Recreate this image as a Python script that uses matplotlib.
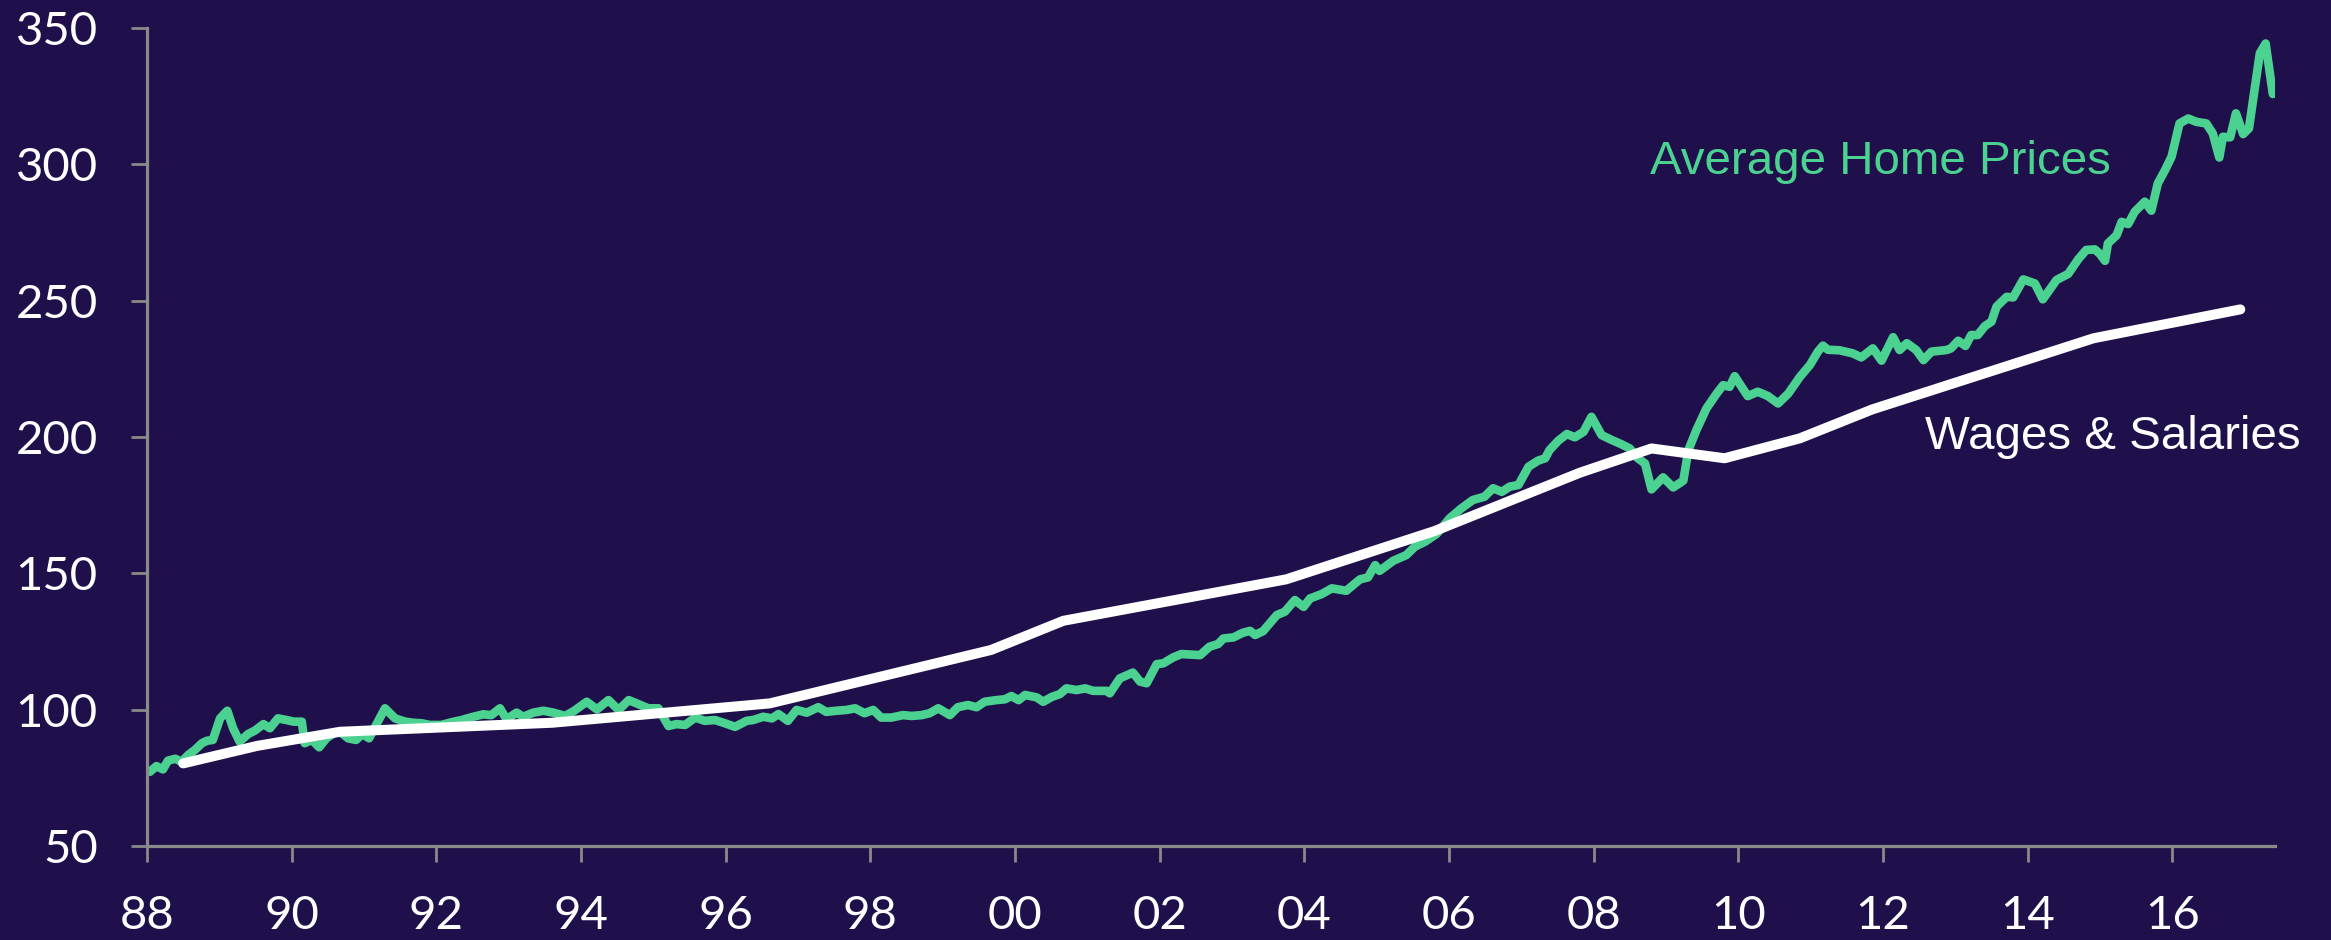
import matplotlib
matplotlib.use("Agg")
import matplotlib.pyplot as plt

# ---------------- data ----------------
home_years = [
    1988.04, 1988.13, 1988.22, 1988.29, 1988.39, 1988.48, 1988.57, 1988.66, 1988.76, 1988.83,
    1988.91, 1989.01, 1989.11, 1989.19, 1989.28, 1989.40, 1989.49, 1989.61, 1989.70, 1989.81,
    1989.93, 1990.03, 1990.14, 1990.18, 1990.28, 1990.38, 1990.48, 1990.58, 1990.67, 1990.78,
    1990.89, 1990.98, 1991.07, 1991.18, 1991.29, 1991.43, 1991.57, 1991.68, 1991.80, 1991.91,
    1992.07, 1992.21, 1992.35, 1992.51, 1992.65, 1992.76, 1992.88, 1992.97, 1993.11, 1993.20,
    1993.34, 1993.48, 1993.62, 1993.78, 1993.90, 1994.08, 1994.22, 1994.38, 1994.52, 1994.66,
    1994.77, 1994.93, 1995.07, 1995.21, 1995.32, 1995.44, 1995.58, 1995.71, 1995.85, 1995.97,
    1996.13, 1996.29, 1996.38, 1996.52, 1996.64, 1996.73, 1996.86, 1996.98, 1997.12, 1997.28,
    1997.39, 1997.53, 1997.67, 1997.79, 1997.92, 1998.04, 1998.15, 1998.29, 1998.45, 1998.57,
    1998.71, 1998.82, 1998.94, 1999.10, 1999.21, 1999.35, 1999.47, 1999.58, 1999.74, 1999.86,
    1999.95, 2000.05, 2000.14, 2000.30, 2000.39, 2000.51, 2000.62, 2000.71, 2000.85, 2000.97,
    2001.08, 2001.27, 2001.31, 2001.45, 2001.63, 2001.73, 2001.82, 2001.96, 2002.05, 2002.19,
    2002.30, 2002.56, 2002.69, 2002.81, 2002.88, 2003.02, 2003.15, 2003.25, 2003.32, 2003.43,
    2003.62, 2003.73, 2003.87, 2003.99, 2004.08, 2004.24, 2004.38, 2004.58, 2004.77, 2004.88,
    2004.98, 2005.04, 2005.23, 2005.41, 2005.53, 2005.67, 2005.83, 2006.01, 2006.17, 2006.33,
    2006.49, 2006.61, 2006.73, 2006.84, 2006.96, 2007.10, 2007.23, 2007.33, 2007.39, 2007.51,
    2007.63, 2007.74, 2007.86, 2007.97, 2008.11, 2008.25, 2008.38, 2008.50, 2008.61, 2008.71,
    2008.80, 2008.96, 2009.10, 2009.24, 2009.31, 2009.42, 2009.56, 2009.70, 2009.79, 2009.88,
    2009.95, 2010.13, 2010.27, 2010.41, 2010.55, 2010.69, 2010.85, 2010.99, 2011.10, 2011.17,
    2011.24, 2011.40, 2011.58, 2011.70, 2011.86, 2011.98, 2012.14, 2012.23, 2012.33, 2012.46,
    2012.56, 2012.67, 2012.88, 2012.94, 2013.04, 2013.14, 2013.22, 2013.31, 2013.41, 2013.50,
    2013.57, 2013.71, 2013.80, 2013.94, 2014.10, 2014.21, 2014.40, 2014.56, 2014.70, 2014.81,
    2014.93, 2015.00, 2015.07, 2015.11, 2015.23, 2015.30, 2015.39, 2015.48, 2015.62, 2015.71,
    2015.80, 2015.90, 2015.99, 2016.10, 2016.22, 2016.33, 2016.47, 2016.56, 2016.65, 2016.70,
    2016.80, 2016.88, 2016.98, 2017.06, 2017.21, 2017.29, 2017.39,
]
home_values = [
    77.2, 79.3, 78.1, 81.3, 82.0, 80.9, 83.4, 85.2, 87.7, 88.6,
    88.9, 96.8, 99.6, 93.2, 88.3, 91.1, 92.3, 94.7, 93.2, 96.8,
    96.2, 95.6, 95.6, 87.7, 88.9, 86.2, 89.5, 91.3, 91.9, 89.5,
    88.9, 91.1, 89.5, 95.0, 100.5, 96.8, 95.6, 95.2, 95.0, 94.4,
    94.4, 95.4, 96.2, 97.4, 98.3, 98.0, 100.5, 96.5, 98.9, 97.4,
    98.9, 99.6, 98.9, 97.7, 99.5, 102.9, 100.1, 103.5, 99.9, 103.5,
    102.3, 100.5, 100.5, 94.0, 94.7, 94.4, 97.1, 95.9, 96.2, 95.2,
    93.7, 95.9, 96.2, 97.4, 96.8, 98.4, 95.9, 99.9, 98.9, 100.9,
    99.2, 99.6, 99.9, 100.5, 98.7, 99.9, 97.1, 97.1, 98.0, 97.7,
    98.0, 98.7, 100.5, 98.0, 100.9, 101.7, 100.9, 102.9, 103.5, 103.8,
    105.0, 103.5, 105.4, 104.5, 102.9, 104.7, 105.7, 107.8, 107.2, 107.8,
    106.9, 106.9, 106.0, 111.5, 113.6, 110.3, 109.7, 116.7, 117.0, 119.2,
    120.4, 120.0, 123.1, 124.1, 126.1, 126.5, 128.2, 128.9, 127.4, 128.8,
    134.7, 135.9, 140.2, 137.7, 140.8, 142.4, 144.5, 143.6, 147.8, 148.5,
    153.0, 150.9, 154.6, 156.7, 159.8, 161.6, 164.5, 170.2, 173.8, 176.9,
    178.1, 181.2, 179.9, 181.8, 182.4, 189.1, 191.3, 192.2, 195.2, 198.6,
    201.1, 199.9, 201.9, 207.4, 200.7, 198.9, 197.4, 195.8, 192.2, 190.3,
    180.8, 185.2, 181.5, 184.0, 195.2, 202.5, 210.5, 215.9, 219.0, 218.4,
    222.3, 215.0, 216.6, 215.0, 212.3, 215.9, 222.0, 226.4, 231.3, 233.5,
    232.0, 231.8, 230.7, 229.2, 232.5, 228.0, 236.6, 231.9, 234.4, 231.9,
    228.2, 231.3, 231.9, 232.5, 235.3, 233.4, 237.4, 237.4, 240.7, 242.3,
    247.8, 251.4, 251.2, 257.8, 256.3, 250.5, 257.6, 259.8, 265.2, 268.6,
    268.8, 267.1, 264.6, 271.0, 274.0, 278.9, 278.1, 282.6, 286.3, 283.0,
    293.0, 297.9, 302.8, 315.0, 316.8, 315.6, 315.0, 311.3, 302.5, 310.1,
    309.9, 318.7, 311.1, 313.2, 340.7, 344.3, 325.8,
]

wage_years = [1988.50, 1989.52, 1990.67, 1993.60, 1996.61, 1999.67, 2000.67, 2003.75,
              2005.80, 2007.81, 2008.80, 2009.81, 2010.85, 2011.85, 2014.91, 2016.94]
wage_values = [80.3, 86.7, 91.9, 95.2, 102.3, 121.9, 132.6, 147.8,
               165.5, 186.9, 195.8, 192.2, 199.5, 210.1, 236.2, 246.8]

tick_years = [1988, 1990, 1992, 1994, 1996, 1998, 2000, 2002, 2004, 2006, 2008, 2010, 2012, 2014, 2016]
tick_labels = ['88', '90', '92', '94', '96', '98', '00', '02', '04', '06', '08', '10', '12', '14', '16']
y_ticks = [50, 100, 150, 200, 250, 300, 350]

home_label = "Average Home Prices"
wage_label = "Wages & Salaries"

# ---------------- style ----------------
BG = "#1F104C"
GREEN = "#4BD291"
GRAY = "#8A8A8A"

fig = plt.figure(figsize=(23.31, 9.40), dpi=100, facecolor=BG)
ax = fig.add_axes([0.06306, 0.1, 0.91292, 0.87021], facecolor=BG)

ax.plot(home_years, home_values, color=GREEN, lw=6.2, solid_joinstyle='round',
        solid_capstyle='round', zorder=2)
ax.plot(wage_years, wage_values, color="white", lw=7.2, solid_joinstyle='round',
        solid_capstyle='round', zorder=3)

ax.set_xlim(1988, 2017.42)
ax.set_ylim(50, 350)
ax.set_xticks(tick_years)
ax.set_xticklabels(tick_labels)
ax.set_yticks(y_ticks)

for s in ['top', 'right']:
    ax.spines[s].set_visible(False)
for s in ['left', 'bottom']:
    ax.spines[s].set_color(GRAY)
    ax.spines[s].set_linewidth(2.3)

ax.tick_params(axis='both', colors=GRAY, width=2.0, length=11.5, labelcolor='white')
ax.tick_params(axis='x', pad=24)
ax.tick_params(axis='y', pad=24)
for lab in ax.get_xticklabels() + ax.get_yticklabels():
    lab.set_fontfamily('Lato')
    lab.set_fontsize(34)

ax.text(2008.78, 296.6, home_label, color=GREEN, fontsize=34.2,
        family='Liberation Sans', ha='left', va='baseline')
ax.text(2012.58, 195.6, wage_label, color='white', fontsize=34.2,
        family='Liberation Sans', ha='left', va='baseline')

fig.savefig("out.png", dpi=100, facecolor=BG)
